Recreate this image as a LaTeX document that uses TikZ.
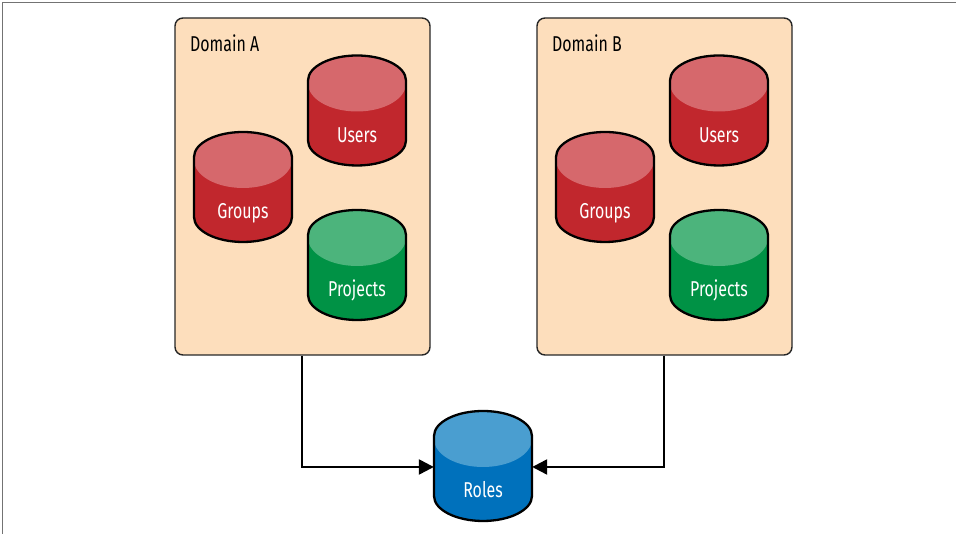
\documentclass[tikz,border=0pt]{standalone}
\usepackage{fontspec}
\setmainfont{Fira Sans}[FakeStretch=0.74]
\usetikzlibrary{arrows.meta}
\definecolor{peach}{RGB}{253,222,188}
\definecolor{rdark}{RGB}{193,39,45}
\definecolor{rlight}{RGB}{214,104,108}
\definecolor{gdark}{RGB}{0,146,69}
\definecolor{glight}{RGB}{76,180,124}
\definecolor{bdark}{RGB}{0,113,188}
\definecolor{blight}{RGB}{74,158,208}
\tikzset{
  domainbox/.style={draw=black!85, line width=1.4pt, fill=peach, rounded corners=8pt, inner sep=0pt},
  cylholder/.style={minimum width=98pt, minimum height=110pt, inner sep=0pt},
  cyllabel/.style={text=white, font=\fontsize{21.5}{24}\selectfont, anchor=base, inner sep=0pt},
  domlabel/.style={font=\fontsize{21.5}{24}\selectfont, anchor=base west, inner sep=0pt},
  arr/.style={line width=2.4pt, -{Triangle[length=15pt,width=15pt]}},
  outline/.style={line width=2.3pt, draw=black, line join=round}
}
% name, cx, cy, dark, light, label
\newcommand\dbcyl[6]{%
  \node[cylholder] (#1) at (#2,#3) {};
  \fill[#4] (#2-49,#3+30) -- (#2-49,#3-30) arc[start angle=180,end angle=360,x radius=49,y radius=25] -- (#2+49,#3+30) arc[start angle=0,end angle=180,x radius=49,y radius=25] -- cycle;
  \fill[#5] (#2-49,#3+30) -- (#2-49,#3+27) arc[start angle=180,end angle=360,x radius=49,y radius=28] -- (#2+49,#3+30) arc[start angle=0,end angle=180,x radius=49,y radius=25] -- cycle;
  \draw[outline] (#2-49,#3+30) -- (#2-49,#3-30) arc[start angle=180,end angle=360,x radius=49,y radius=25] -- (#2+49,#3+30) arc[start angle=0,end angle=180,x radius=49,y radius=25] -- cycle;
  \node[cyllabel] at (#2,#3-32) {#6};
}
\begin{document}
\begin{tikzpicture}[x=1pt,y=1pt]
\useasboundingbox (0,0) rectangle (956,534);
\draw[black!55, line width=1.5pt] (2.5,0) -- (2.5,531.5) -- (956,531.5);
% domains
\node[domainbox, minimum width=255pt, minimum height=337pt] (domA) at (302.5,347.5) {};
\node[domainbox, minimum width=255pt, minimum height=337pt] (domB) at (664.5,347.5) {};
\node[domlabel] (labA) at (190,482) {Domain A};
\node[domlabel] (labB) at (552,482) {Domain B};
% cylinders
\dbcyl{usersA}{357}{423.5}{rdark}{rlight}{Users}
\dbcyl{groupsA}{243}{347}{rdark}{rlight}{Groups}
\dbcyl{projectsA}{357}{269}{gdark}{glight}{Projects}
\dbcyl{usersB}{719}{423.5}{rdark}{rlight}{Users}
\dbcyl{groupsB}{605}{347}{rdark}{rlight}{Groups}
\dbcyl{projectsB}{719}{269}{gdark}{glight}{Projects}
\dbcyl{roles}{483}{68}{bdark}{blight}{Roles}
% arrows
\draw[arr] ([xshift=127.5pt]domA.south west) |- ([yshift=-1pt]roles.west);
\draw[arr] ([xshift=127.5pt]domB.south west) |- ([yshift=-1pt]roles.east);
\end{tikzpicture}
\end{document}
